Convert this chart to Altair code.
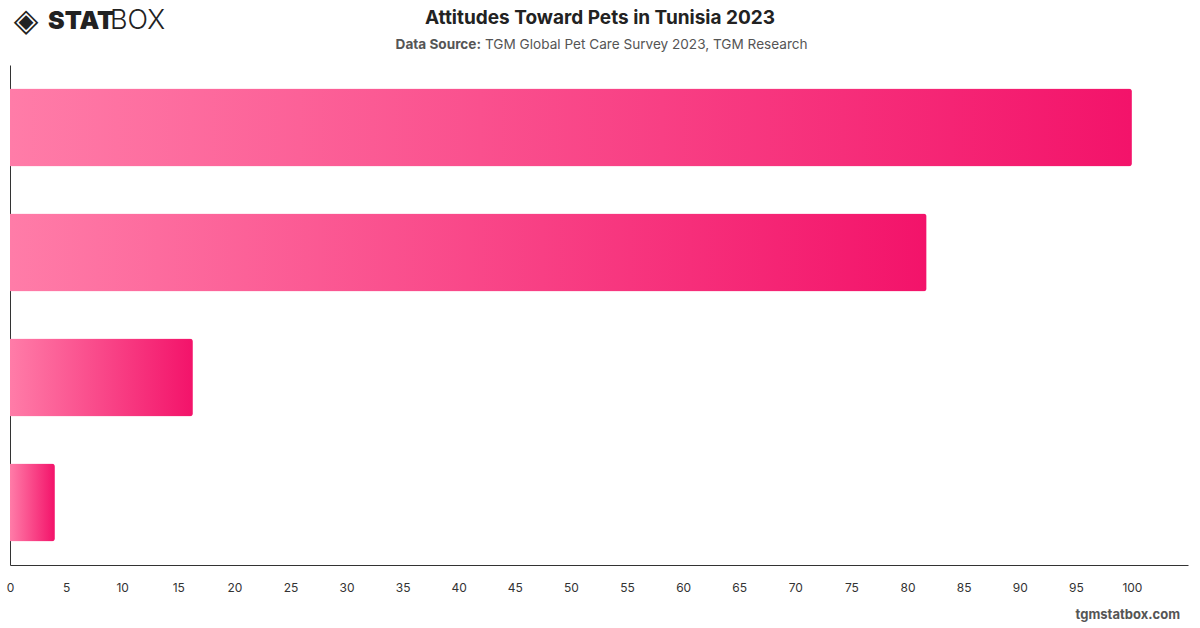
import altair as alt
import pandas as pd

categories = ["Statement 1", "Statement 2", "Statement 3", "Statement 4"]
values = [100.0, 81.7, 16.3, 4.0]
x_ticks = list(range(0, 101, 5))

title_text = "Attitudes Toward Pets in Tunisia 2023"
source_label = "Data Source:"
source_text = "TGM Global Pet Care Survey 2023, TGM Research"
watermark = "tgmstatbox.com"

df = pd.DataFrame({"category": categories, "value": values})
FONT = "Inter"

grad = alt.Gradient(
    gradient="linear",
    stops=[alt.GradientStop(color="#ff7ca8", offset=0),
           alt.GradientStop(color="#f3136a", offset=1)],
    x1=0, x2=1, y1=0, y2=0,
)

bars = alt.Chart(df).mark_bar(color=grad, cornerRadiusEnd=3).encode(
    x=alt.X("value:Q", scale=alt.Scale(domain=[0, 105], nice=False),
            axis=alt.Axis(values=x_ticks, title=None, grid=False, ticks=False,
                          domainColor="#333333", domainWidth=1,
                          labelColor="#333333", labelFont=FONT, labelFontSize=12,
                          labelPadding=17, labelFlush=False)),
    y=alt.Y("category:N", sort=categories,
            scale=alt.Scale(paddingInner=0.376, paddingOuter=0.188),
            axis=alt.Axis(title=None, labels=False, ticks=False, grid=False,
                          domainColor="#333333", domainWidth=1)),
)

one = pd.DataFrame({"a": [0]})

def txt(text, x, y, size, weight="normal", color="#222222", align="center", font=FONT):
    return alt.Chart(one).mark_text(
        text=text, font=font, fontSize=size, fontWeight=weight, color=color,
        align=align, baseline="middle"
    ).encode(x=alt.value(x), y=alt.value(y))

title = txt(title_text, 590, -47, 19, "bold", "#222222")
src1 = txt(source_label, 471, -20, 13.6, "bold", "#555555", "right")
src2 = txt(source_text, 475, -20, 13.6, "normal", "#555555", "left")
logo_icon = txt("◈", 16, -44, 32, "normal", "#222222", "center", "DejaVu Sans")
logo_stat = txt("STAT", 38, -44, 25, 900, "#222222", "left")
logo_box = txt("BOX", 100, -44, 27, 300, "#222222", "left")
wm = txt(watermark, 1170, 550, 13, "bold", "#555555", "right")

chart = alt.layer(bars, title, src1, src2, logo_icon, logo_stat, logo_box, wm).properties(
    width=1178, height=500,
    autosize=alt.AutoSizeParams(type="none"),
    padding={"left": 10, "top": 65, "right": 12, "bottom": 63},
).configure(background="white").configure_view(stroke=None, strokeWidth=0)

chart.save("out.html", embed_options={"renderer": "svg", "actions": False})
